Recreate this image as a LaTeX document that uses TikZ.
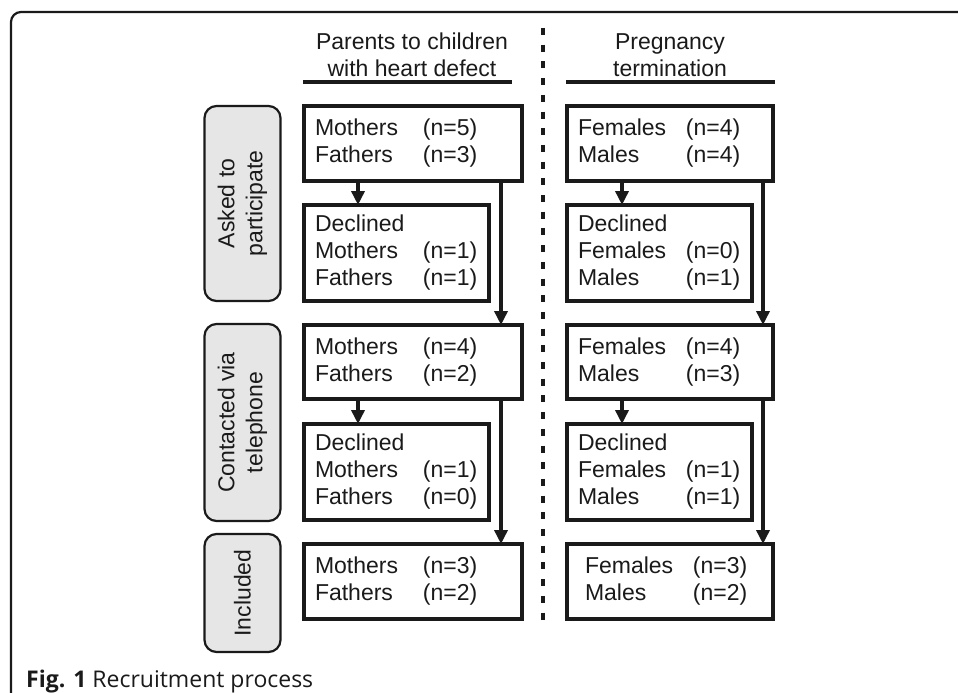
\documentclass[tikz,border=0pt]{standalone}
\usepackage{fontspec}
\setmainfont{Liberation Sans}
\newfontfamily\capfont{Open Sans}
\usetikzlibrary{arrows.meta}
\definecolor{ink}{HTML}{1A1A1A}
\definecolor{stagegray}{HTML}{E6E6E6}
\tikzset{
  flowbox/.style={draw=ink, line width=4pt, rectangle, anchor=north west, outer sep=0pt, inner xsep=11pt, inner ysep=0pt,
    align=left, font=\fontsize{23}{27}\selectfont, text=ink},
  stagebox/.style={draw=ink, line width=2.2pt, fill=stagegray, rounded corners=12pt, rotate=90, outer sep=0pt,
    align=center, font=\fontsize{23}{28}\selectfont, inner sep=0pt, text=ink},
  headtext/.style={anchor=south, align=center, inner sep=0pt, font=\fontsize{23}{27.5}\selectfont, text=ink},
  flowarrow/.style={draw=ink, line width=3.5pt, -{Triangle[width=13pt,length=14pt]}},
}
\newcommand{\lab}[2]{\makebox[108pt][l]{#1}#2}
\begin{document}
\begin{tikzpicture}[x=1pt,y=-1pt]
\useasboundingbox (0,0) rectangle (958,693);
% outer frame
\draw[ink, line width=2.2pt, rounded corners=10pt] (11,705) -- (11,12) -- (970,12);
% headers
\node[headtext] (h1) at (412,77) {Parents to children\\with heart defect};
\node[headtext] (h2) at (670,77) {Pregnancy\\termination};
\draw[ink, line width=4pt] (303,82) -- (512,82);
\draw[ink, line width=4pt] (566,82) -- (775,82);
% divider
\draw[ink, line width=4pt, dash pattern=on 7pt off 9.7pt] (543,28) -- (543,620);
% stage labels
\node[stagebox, minimum width=195pt, minimum height=76pt] (s1) at (242.5,203.5) {Asked to\\participate};
\node[stagebox, minimum width=197pt, minimum height=76pt] (s2) at (242.5,422.5) {Contacted via\\telephone};
\node[stagebox, minimum width=118pt, minimum height=76pt] (s3) at (242.5,593) {Included};
% left column
\node[flowbox, minimum width=218pt, minimum height=75pt, text width=196pt] (a1) at (304,105.5)
  {\lab{Mothers}{(n=5)}\\\lab{Fathers}{(n=3)}};
\node[flowbox, minimum width=185pt, minimum height=96pt, text width=163pt] (a2) at (304,205)
  {Declined\\\lab{Mothers}{(n=1)}\\\lab{Fathers}{(n=1)}};
\node[flowbox, minimum width=218pt, minimum height=74pt, text width=196pt] (a3) at (304,325)
  {\lab{Mothers}{(n=4)}\\\lab{Fathers}{(n=2)}};
\node[flowbox, minimum width=185pt, minimum height=96pt, text width=163pt] (a4) at (304,424)
  {Declined\\\lab{Mothers}{(n=1)}\\\lab{Fathers}{(n=0)}};
\node[flowbox, minimum width=218pt, minimum height=75pt, text width=196pt] (a5) at (304,544)
  {\lab{Mothers}{(n=3)}\\\lab{Fathers}{(n=2)}};
% right column
\node[flowbox, minimum width=206pt, minimum height=75pt, text width=184pt] (b1) at (567,105.5)
  {\lab{Females}{(n=4)}\\\lab{Males}{(n=4)}};
\node[flowbox, minimum width=185pt, minimum height=96pt, text width=163pt] (b2) at (567,205)
  {Declined\\\lab{Females}{(n=0)}\\\lab{Males}{(n=1)}};
\node[flowbox, minimum width=206pt, minimum height=74pt, text width=184pt] (b3) at (567,325)
  {\lab{Females}{(n=4)}\\\lab{Males}{(n=3)}};
\node[flowbox, minimum width=185pt, minimum height=96pt, text width=163pt] (b4) at (567,424)
  {Declined\\\lab{Females}{(n=1)}\\\lab{Males}{(n=1)}};
\node[flowbox, minimum width=206pt, minimum height=75pt, text width=170pt, inner xsep=18pt] (b5) at (567,544)
  {\lab{Females}{(n=3)}\\\lab{Males}{(n=2)}};
% arrows
\draw[flowarrow] (a1.south -| 358,0) -- (a2.north -| 358,0);
\draw[flowarrow] (a1.south -| 501,0) -- (a3.north -| 501,0);
\draw[flowarrow] (a3.south -| 358,0) -- (a4.north -| 358,0);
\draw[flowarrow] (a3.south -| 501,0) -- (a5.north -| 501,0);
\draw[flowarrow] (b1.south -| 622,0) -- (b2.north -| 622,0);
\draw[flowarrow] (b1.south -| 763,0) -- (b3.north -| 763,0);
\draw[flowarrow] (b3.south -| 622,0) -- (b4.north -| 622,0);
\draw[flowarrow] (b3.south -| 763,0) -- (b5.north -| 763,0);
% caption
\node[anchor=base west, inner sep=0pt, font=\capfont\fontsize{23}{27}\selectfont, text=ink] (cap) at (26,687)
  {\textbf{Fig. 1} Recruitment process};
\end{tikzpicture}
\end{document}
